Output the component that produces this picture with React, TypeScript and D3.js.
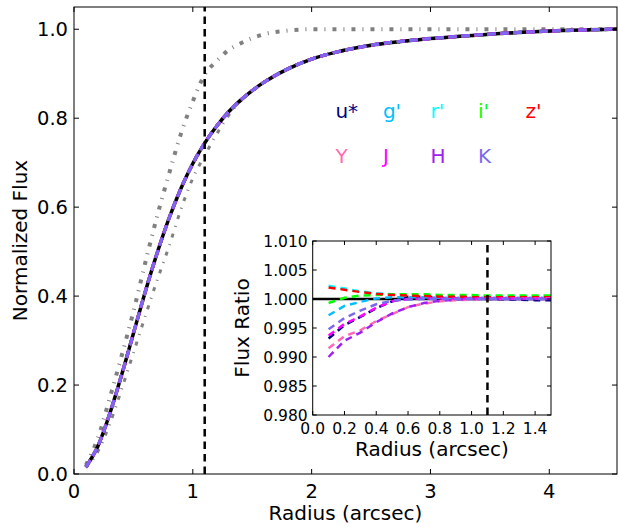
import React from 'react';
import * as d3 from 'd3';

// curve of growth
const radii = [0.1, 0.2, 0.3, 0.4, 0.5, 0.6, 0.7, 0.8, 0.9, 1.0, 1.1, 1.2, 1.3, 1.4, 1.5, 1.6, 1.8, 2.0, 2.2, 2.5, 3.0, 3.5, 4.0, 4.5, 4.6];
const coreFlux = [0.016, 0.062, 0.135, 0.222, 0.316, 0.41, 0.497, 0.575, 0.642, 0.698, 0.744, 0.782, 0.814, 0.84, 0.862, 0.881, 0.911, 0.933, 0.948, 0.964, 0.979, 0.989, 0.996, 1.0, 1.001];
const narrowFlux = [0.02, 0.08, 0.17, 0.265, 0.365, 0.475, 0.58, 0.675, 0.765, 0.838, 0.898, 0.928, 0.953, 0.968, 0.98, 0.989, 0.997, 1.0, 1.0, 1.0, 1.0, 1.0, 1.0, 1.0, 1.0];
const wideFlux = [0.014, 0.05, 0.112, 0.19, 0.272, 0.355, 0.436, 0.512, 0.595, 0.665, 0.716, 0.764, 0.806, 0.838, 0.861, 0.88, 0.91, 0.932, 0.947, 0.963, 0.978, 0.988, 0.995, 0.999, 1.0];

const bands = ["u*", "g'", "r'", "i'", "z'", "Y", "J", "H", "K"];
const bandColors = ['#000080', '#00bfff', '#00ffff', '#00ff00', '#ff0000', '#ff69b4', '#ff00ff', '#a020f0', '#7b68ee'];
const bandLabelX = [2.2, 2.6, 3.0, 3.4, 3.8, 2.2, 2.6, 3.0, 3.4];
const bandLabelY = [0.8, 0.8, 0.8, 0.8, 0.8, 0.7, 0.7, 0.7, 0.7];

// flux ratio (inset)
const ratioRadii = [0.1, 0.2, 0.3, 0.4, 0.5, 0.6, 0.7, 0.8, 0.9, 1.0, 1.1, 1.2, 1.3, 1.4, 1.5];
const ratioU = [0.9932, 0.9955, 0.9969, 0.9984, 0.9996, 1.0004, 1.0004, 1.0002, 1.0001, 1.0, 1.0, 0.9999, 0.9999, 0.9998, 0.9998];
const ratioG = [0.9972, 0.9988, 0.9995, 1.0001, 1.0003, 1.0003, 1.0003, 1.0002, 1.0002, 1.0002, 1.0002, 1.0002, 1.0002, 1.0002, 1.0002];
const ratioR = [1.0023, 1.0018, 1.0013, 1.001, 1.0008, 1.0006, 1.0005, 1.0005, 1.0004, 1.0004, 1.0004, 1.0004, 1.0004, 1.0004, 1.0004];
const ratioI = [0.9993, 1.0002, 1.0006, 1.0007, 1.0008, 1.0008, 1.0008, 1.0007, 1.0007, 1.0007, 1.0006, 1.0006, 1.0006, 1.0006, 1.0006];
const ratioZ = [1.002, 1.0016, 1.0012, 1.0009, 1.0007, 1.0006, 1.0005, 1.0004, 1.0004, 1.0003, 1.0003, 1.0003, 1.0003, 1.0003, 1.0003];
const ratioY = [0.9915, 0.9936, 0.9946, 0.9962, 0.9974, 0.9986, 0.9992, 0.9996, 0.9998, 0.9999, 1.0, 1.0, 1.0001, 1.0001, 1.0001];
const ratioJ = [0.9937, 0.9957, 0.997, 0.9985, 0.9996, 1.0, 1.0001, 1.0001, 1.0001, 1.0001, 1.0001, 1.0001, 1.0001, 1.0001, 1.0001];
const ratioH = [0.99, 0.9928, 0.9942, 0.996, 0.9975, 0.9986, 0.9993, 0.9997, 0.9999, 1.0, 1.0, 1.0, 1.0, 1.0, 1.0];
const ratioK = [0.9948, 0.9967, 0.998, 0.9991, 0.9997, 0.9999, 1.0, 1.0, 1.0, 1.0, 1.0, 1.0, 1.0, 1.0, 1.0];
const ratios = [ratioU, ratioG, ratioR, ratioI, ratioZ, ratioY, ratioJ, ratioH, ratioK];

const aperture = 1.1;
const mainXTicks = [0, 1, 2, 3, 4];
const mainYTicks = [0, 0.2, 0.4, 0.6, 0.8, 1.0];
const insetXTicks = [0, 0.2, 0.4, 0.6, 0.8, 1.0, 1.2, 1.4];
const insetYTicks = [0.98, 0.985, 0.99, 0.995, 1.0, 1.005, 1.01];

const FONT = 'DejaVu Sans, sans-serif';

export default function App() {
  // main axes box
  const m = {left: 74, right: 617, top: 7, bottom: 474};
  const x = d3.scaleLinear().domain([0, 4.57]).range([m.left, m.right]);
  const y = d3.scaleLinear().domain([0, 1.05]).range([m.bottom, m.top]);

  // inset axes box
  const n = {left: 312.7, right: 551, top: 241, bottom: 415};
  const ix = d3.scaleLinear().domain([0, 1.5]).range([n.left, n.right]);
  const iy = d3.scaleLinear().domain([0.98, 1.01]).range([n.bottom, n.top]);

  const line = (ys: number[]) => d3.line<number>()
    .x((d, i) => x(radii[i]))
    .y(d => y(d))
    .curve(d3.curveMonotoneX)(ys) as string;

  const ratioLine = d3.line<number>()
    .x((d, i) => ix(ratioRadii[i]))
    .y(d => iy(d));

  const tick = 5;
  const itick = 4;

  return (
    <svg width={618} height={527} style={{position: 'absolute', left: 0, top: 0, background: '#fff'}}
      fontFamily={FONT}>
      <defs>
        <clipPath id="mainClip">
          <rect x={m.left} y={m.top} width={m.right - m.left} height={m.bottom - m.top}/>
        </clipPath>
        <clipPath id="insetClip">
          <rect x={n.left} y={n.top} width={n.right - n.left} height={n.bottom - n.top}/>
        </clipPath>
      </defs>

      <g clipPath="url(#mainClip)" fill="none">
        <path d={line(narrowFlux)} stroke="#808080" strokeWidth={4} strokeDasharray="4,7,1,7"/>
        <path d={line(wideFlux)} stroke="#808080" strokeWidth={3} strokeDasharray="4,7,1,7"/>
        <path d={line(coreFlux)} stroke="#000" strokeWidth={3.5}/>
        {bands.map((b, i) => (
          <path key={b} d={line(coreFlux)} stroke={bandColors[i]} strokeWidth={3} strokeDasharray="8,5"/>
        ))}
        <line x1={x(aperture)} x2={x(aperture)} y1={m.bottom} y2={m.top}
          stroke="#000" strokeWidth={2.5} strokeDasharray="7.5,5"/>
      </g>

      {bands.map((b, i) => (
        <text key={b} x={x(bandLabelX[i])} y={y(bandLabelY[i])} fill={bandColors[i]} fontSize={20}>{b}</text>
      ))}

      {/* main frame and ticks */}
      <rect x={m.left} y={m.top} width={m.right - m.left} height={m.bottom - m.top} fill="none" stroke="#000" strokeWidth={1}/>
      {mainXTicks.map(t => (
        <g key={'mx' + t}>
          <line x1={x(t)} x2={x(t)} y1={m.bottom} y2={m.bottom - tick} stroke="#000"/>
          <line x1={x(t)} x2={x(t)} y1={m.top} y2={m.top + tick} stroke="#000"/>
          <text x={x(t)} y={m.bottom + 23.5} textAnchor="middle" fontSize={19.5}>{d3.format('d')(t)}</text>
        </g>
      ))}
      {mainYTicks.map(t => (
        <g key={'my' + t}>
          <line x1={m.left} x2={m.left + tick} y1={y(t)} y2={y(t)} stroke="#000"/>
          <line x1={m.right} x2={m.right - tick} y1={y(t)} y2={y(t)} stroke="#000"/>
          <text x={m.left - 6} y={y(t)} dy="0.36em" textAnchor="end" fontSize={19.5}>{d3.format('.1f')(t)}</text>
        </g>
      ))}
      <text x={(m.left + m.right) / 2} y={520} textAnchor="middle" fontSize={20}>Radius (arcsec)</text>
      <text transform={`translate(27,${(m.top + m.bottom) / 2}) rotate(-90)`} textAnchor="middle" fontSize={20}>Normalized Flux</text>

      {/* inset */}
      <rect x={n.left} y={n.top} width={n.right - n.left} height={n.bottom - n.top} fill="#fff"/>
      <g clipPath="url(#insetClip)" fill="none">
        <line x1={n.left} x2={n.right} y1={iy(1)} y2={iy(1)} stroke="#000" strokeWidth={2.5}/>
        {ratios.map((r, i) => (
          <path key={bands[i]} d={ratioLine(r) as string} stroke={bandColors[i]} strokeWidth={2.5} strokeDasharray="7,5"/>
        ))}
        <line x1={ix(aperture)} x2={ix(aperture)} y1={n.bottom} y2={n.top}
          stroke="#000" strokeWidth={2.5} strokeDasharray="7.5,5"/>
      </g>
      <rect x={n.left} y={n.top} width={n.right - n.left} height={n.bottom - n.top} fill="none" stroke="#000" strokeWidth={1}/>
      {insetXTicks.map(t => (
        <g key={'ix' + t}>
          <line x1={ix(t)} x2={ix(t)} y1={n.bottom} y2={n.bottom - itick} stroke="#000"/>
          <line x1={ix(t)} x2={ix(t)} y1={n.top} y2={n.top + itick} stroke="#000"/>
          <text x={ix(t)} y={n.bottom + 19} textAnchor="middle" fontSize={15.5}>{d3.format('.1f')(t)}</text>
        </g>
      ))}
      {insetYTicks.map(t => (
        <g key={'iy' + t}>
          <line x1={n.left} x2={n.left + itick} y1={iy(t)} y2={iy(t)} stroke="#000"/>
          <line x1={n.right} x2={n.right - itick} y1={iy(t)} y2={iy(t)} stroke="#000"/>
          <text x={n.left - 5} y={iy(t)} dy="0.36em" textAnchor="end" fontSize={15.5}>{d3.format('.3f')(t)}</text>
        </g>
      ))}
      <text x={(n.left + n.right) / 2} y={456} textAnchor="middle" fontSize={20}>Radius (arcsec)</text>
      <text transform={`translate(249,${(n.top + n.bottom) / 2}) rotate(-90)`} textAnchor="middle" fontSize={20}>Flux Ratio</text>
    </svg>
  );
}
